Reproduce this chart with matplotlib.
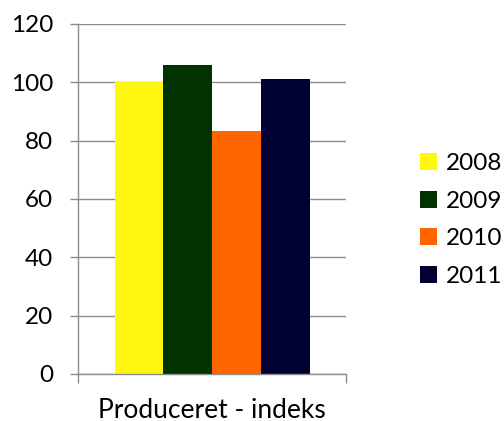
import matplotlib.pyplot as plt
import numpy as np

plt.rcParams['font.family'] = ['Lato', 'DejaVu Sans']

category = 'Produceret - indeks'
years = ['2008', '2009', '2010', '2011']
values = [100.2, 105.9, 83.3, 101.1]
colors = ['#FFF70F', '#003300', '#FF6600', '#000033']

fig = plt.figure(figsize=(5.04, 4.21), dpi=100)
ax = fig.add_axes([0.155, 0.112, 0.532, 0.831])

bw = 0.182
offsets = (np.arange(len(years)) - 1.5) * bw
for off, v, c, y in zip(offsets, values, colors, years):
    ax.bar(off, v, width=bw, color=c, label=y, zorder=2)

ax.set_xlim(-0.5, 0.5)
ax.set_ylim(0, 120)
ax.set_yticks(range(0, 121, 20))
ax.yaxis.grid(True, color='#8c8c8c', linewidth=1.0, zorder=0)
ax.set_xticks([-0.5, 0.5])
ax.set_xticklabels(['', ''])
ax.tick_params(axis='x', length=6.5, color='#8c8c8c', width=1)
ax.tick_params(axis='y', length=6, color='#8c8c8c', width=1, labelsize=17.5, pad=12)
fig.text(212 / 504, 1 - 410 / 421, category, ha='center', va='center', fontsize=19)
for s in ['top', 'right']:
    ax.spines[s].set_visible(False)
for s in ['left', 'bottom']:
    ax.spines[s].set_color('#8c8c8c')
    ax.spines[s].set_linewidth(1)

fig.legend(*ax.get_legend_handles_labels(), loc='center left',
           bbox_to_anchor=(420 / 504, 1 - 220 / 421), frameon=False, fontsize=17.5,
           borderpad=0, borderaxespad=0,
           handlelength=0.7, handleheight=0.7, handletextpad=0.35, labelspacing=0.68)

fig.savefig('out.png', dpi=100)
